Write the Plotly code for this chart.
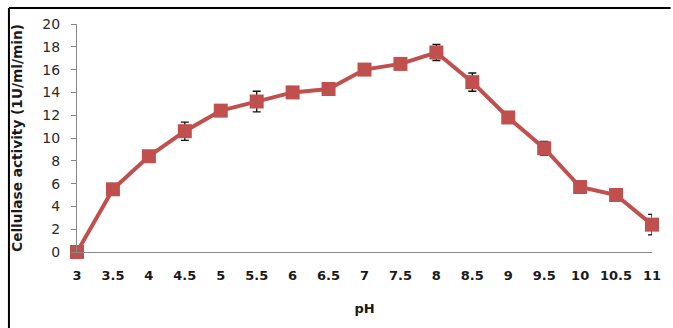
import plotly.graph_objects as go

ph = [3, 3.5, 4, 4.5, 5, 5.5, 6, 6.5, 7, 7.5, 8, 8.5, 9, 9.5, 10, 10.5, 11]
activity = [0, 5.5, 8.4, 10.6, 12.4, 13.2, 14.0, 14.3, 16.0, 16.5, 17.5, 14.9, 11.8, 9.1, 5.7, 5.0, 2.4]
err = [0, 0.3, 0.3, 0.8, 0.4, 0.9, 0.5, 0.3, 0.4, 0.3, 0.7, 0.8, 0.3, 0.6, 0.4, 0.3, 0.9]
tick_labels = ["3", "3.5", "4", "4.5", "5", "5.5", "6", "6.5", "7", "7.5", "8", "8.5", "9", "9.5", "10", "10.5", "11"]

W, H = 673, 328
ml, mr, mt, mb = 77, 13, 24, 76
pw, ph_ = W - ml - mr, H - mt - mb

fig = go.Figure()
fig.add_trace(go.Scatter(
    x=ph, y=activity, mode="lines+markers",
    line=dict(color="#C0504D", width=4),
    marker=dict(symbol="square", size=14, color="#C0504D"),
    error_y=dict(type="data", array=err, visible=True, color="#111", thickness=1.3, width=4),
    cliponaxis=False, showlegend=False,
))

bold = dict(family="DejaVu Sans", size=13, color="#1a1a1a", weight="bold")
title_font = dict(family="DejaVu Sans", size=13.7, color="#1a1a1a", weight="bold")
ytick_font = dict(family="DejaVu Sans", size=14, color="#2a2a2a", weight="normal")

fig.update_layout(
    width=W, height=H,
    margin=dict(l=ml, r=mr, t=mt, b=mb),
    paper_bgcolor="white", plot_bgcolor="white",
    font=dict(family="DejaVu Sans", size=13, color="#1a1a1a"),
    xaxis=dict(
        range=[3, 11], tickvals=ph, ticktext=tick_labels,
        showgrid=False, zeroline=False, showline=True, linecolor="#888", linewidth=1,
        ticks="", ticklabelstandoff=11,
        tickfont=bold,
        title=dict(text="pH", font=bold, standoff=22),
    ),
    yaxis=dict(
        range=[0, 20], dtick=2, showgrid=False, zeroline=False,
        showline=True, linecolor="#888", linewidth=1,
        ticks="outside", ticklen=5, tickcolor="#888", ticklabelstandoff=8,
        tickfont=ytick_font,
        title=dict(text="Cellulase activity (1U/ml/min)", font=title_font, standoff=16),
    ),
)

# black frame (top and left edges visible)
x0 = (8 - ml) / pw
y_top = 1 + (mt - 8) / ph_
fig.add_shape(type="line", xref="paper", yref="paper", x0=x0, x1=1 + mr / pw + 0.01, y0=y_top, y1=y_top,
              line=dict(color="black", width=2))
fig.add_shape(type="line", xref="paper", yref="paper", x0=x0, x1=x0, y0=y_top, y1=-mb / ph_ - 0.01,
              line=dict(color="black", width=2))

fig.write_html("out.html")
